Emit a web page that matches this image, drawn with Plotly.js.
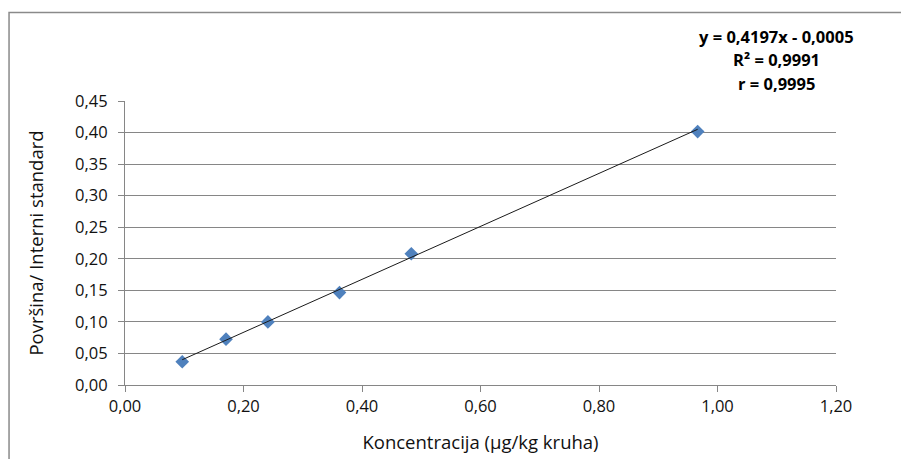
<!DOCTYPE html>
<html>
<head>
<meta charset="utf-8">
<script src="https://cdn.plot.ly/plotly-3.0.1.min.js"></script>
<style>
  html, body { margin: 0; padding: 0; background: #fff; }
  #chart { width: 901px; height: 459px; }
</style>
</head>
<body>
<div id="chart"></div>
<script>
// Data
const concentration = [0.0966, 0.1705, 0.2412, 0.3620, 0.4832, 0.9665];
const ratio = [0.0368, 0.0726, 0.0999, 0.1464, 0.2080, 0.4015];
const slope = 0.4197;
const intercept = -0.0005;
const equationLines = ["y = 0,4197x - 0,0005", "R² = 0,9991", "r = 0,9995"];
const xTitle = "Koncentracija (µg/kg kruha)";
const yTitle = "Površina/ Interni standard";

const xMin = Math.min.apply(null, concentration);
const xMax = Math.max.apply(null, concentration);
const trendX = [xMin, xMax];
const trendY = trendX.map(function (v) { return slope * v + intercept; });

const FONT = "'Open Sans', Lato, sans-serif";
const GRID = "#868686";

const traces = [
  {
    x: concentration, y: ratio, type: "scatter", mode: "markers",
    marker: { symbol: "diamond", size: 10.5, color: "#4F81BD", line: { width: 0 } },
    hoverinfo: "x+y"
  },
  {
    x: trendX, y: trendY, type: "scatter", mode: "lines",
    line: { color: "#1a1a1a", width: 1 }, hoverinfo: "skip"
  }
];

const eqY = [1.2264, 1.1444, 1.0623];
const annotations = equationLines.map(function (t, i) {
  return {
    xref: "paper", yref: "paper", x: 0.9166, y: eqY[i],
    xanchor: "center", yanchor: "middle", showarrow: false,
    text: "<b>" + t + "</b>",
    font: { family: FONT, size: 16.5, color: "#000" }
  };
});

const layout = {
  width: 901, height: 459,
  margin: { l: 125, r: 65, t: 101, b: 74 },
  paper_bgcolor: "#fff", plot_bgcolor: "#fff",
  showlegend: false,
  separators: ", ",
  font: { family: FONT, size: 16, color: "#000" },
  xaxis: {
    range: [0, 1.2], dtick: 0.2, tick0: 0, tickformat: ".2f",
    showgrid: false, zeroline: false,
    showline: true, linecolor: GRID, linewidth: 1,
    ticks: "outside", ticklen: 6, tickcolor: GRID, tickwidth: 1,
    tickfont: { family: FONT, size: 16.5, color: "#111" },
    title: { text: xTitle, font: { family: FONT, size: 18.5, color: "#111" }, standoff: 20 },
    automargin: false
  },
  yaxis: {
    range: [0, 0.45], dtick: 0.05, tick0: 0, tickformat: ".2f",
    showgrid: true, gridcolor: GRID, gridwidth: 1, zeroline: false,
    showline: true, linecolor: GRID, linewidth: 1,
    ticks: "outside", ticklen: 6, tickcolor: GRID, tickwidth: 1,
    ticklabelstandoff: 7,
    tickfont: { family: FONT, size: 16.5, color: "#111" },
    title: { text: yTitle, font: { family: FONT, size: 18.5, color: "#111" }, standoff: 26 },
    automargin: false
  },
  annotations: annotations,
  shapes: [
    {
      type: "rect", xref: "paper", yref: "paper",
      x0: -0.1631, x1: 1.5, y0: -0.6, y1: 1.3116,
      line: { color: "#8a8a8a", width: 1.5 }, fillcolor: "rgba(0,0,0,0)", layer: "below"
    }
  ]
};

Plotly.newPlot("chart", traces, layout, { displayModeBar: false, staticPlot: true });
</script>
</body>
</html>
